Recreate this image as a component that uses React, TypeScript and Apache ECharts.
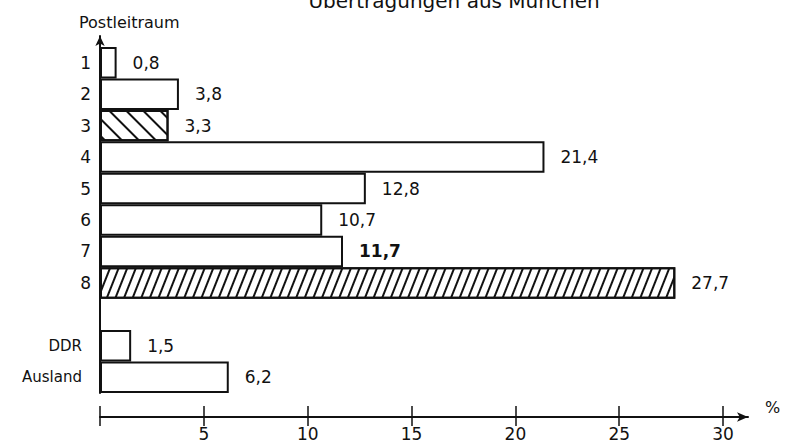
import { useEffect, useRef } from 'react';
import * as echarts from 'echarts';

const categories = ['1', '2', '3', '4', '5', '6', '7', '8', '', 'DDR', 'Ausland'];
const values: (number | null)[] = [0.8, 3.8, 3.3, 21.4, 12.8, 10.7, 11.7, 27.7, null, 1.5, 6.2];
const hatchBackslash = ['3'];
const hatchSlash = ['8'];
const boldLabels = ['7'];
const xTicks = [0, 5, 10, 15, 20, 25, 30];
const titleText = 'Übertragungen aus München';
const yAxisName = 'Postleitraum';
const unitName = '%';

const FONT = '"DejaVu Sans", "Liberation Sans", Arial, sans-serif';
const INK = '#111';

export default function App() {
  const ref = useRef<HTMLDivElement>(null);
  useEffect(() => {
    if (!ref.current) return;
    const chart = echarts.init(ref.current, null, { renderer: 'svg' });
    const xMax = 31.2;
    const data = values.map((v, i) => {
      const cat = categories[i];
      const item: any = { value: v };
      if (hatchBackslash.includes(cat)) {
        item.itemStyle = {
          decal: {
            symbol: 'rect', symbolSize: 1, dashArrayX: [1, 0], dashArrayY: [2, 10],
            rotation: Math.PI / 4, color: INK,
          },
        };
      } else if (hatchSlash.includes(cat)) {
        item.itemStyle = {
          decal: {
            symbol: 'rect', symbolSize: 1, dashArrayX: [1, 0], dashArrayY: [2, 6],
            rotation: -Math.PI * 0.38, color: INK,
          },
        };
      }
      if (boldLabels.includes(cat)) item.label = { fontWeight: 'bold' };
      return item;
    });
    chart.setOption({
      animation: false,
      backgroundColor: '#fff',
      textStyle: { fontFamily: FONT },
      graphic: [
        {
          type: 'text', x: 454, y: -9,
          style: { text: titleText, fill: INK, fontSize: 20, fontFamily: FONT, align: 'center', verticalAlign: 'top' },
        },
        {
          type: 'text', x: 79, y: 14,
          style: { text: yAxisName, fill: INK, fontSize: 16, fontFamily: FONT, align: 'left', verticalAlign: 'top' },
        },
      ],
      grid: [
        { left: 100, top: 47, width: 648, height: 346 },
        { left: 100, top: 36, width: 648, height: 357 },
      ],
      xAxis: [
        {
          gridIndex: 0, type: 'value', min: 0, max: xMax, position: 'bottom', offset: 24,
          axisLine: { show: true, onZero: false, symbol: ['none', 'arrow'], symbolSize: [7, 11], lineStyle: { color: INK, width: 2 } },
          axisTick: { show: true, length: 9, customValues: xTicks, lineStyle: { color: INK, width: 1.5 } },
          axisLabel: {
            customValues: xTicks, margin: 8, fontSize: 17, color: INK, fontFamily: FONT,
            formatter: (v: number) => (v === 0 ? '' : String(v)),
          },
          splitLine: { show: false },
          name: unitName, nameLocation: 'end', nameGap: 17,
          nameTextStyle: { fontSize: 16, color: INK, fontFamily: FONT, verticalAlign: 'bottom', padding: [0, 0, 2, 0] },
        },
        {
          gridIndex: 1, type: 'value', min: 0, max: xMax, position: 'bottom', offset: 24,
          axisLine: { show: false, onZero: false },
          axisTick: { show: true, inside: true, length: 11, customValues: xTicks, lineStyle: { color: INK, width: 1.5 } },
          axisLabel: { show: false },
          splitLine: { show: false },
        },
      ],
      yAxis: [
        {
          gridIndex: 0, type: 'category', inverse: true, data: categories,
          axisLine: { show: false }, axisTick: { show: false },
          axisLabel: {
            margin: 9, fontSize: 17, color: INK, fontFamily: FONT,
            formatter: (v: string) => (/^\d+$/.test(v) ? v : `{w|${v}}`),
            rich: { w: { fontSize: 15, color: INK, fontFamily: FONT, padding: [0, 9, 0, 0] } },
          },
          splitLine: { show: false },
        },
        {
          gridIndex: 1, type: 'value', min: 0, max: 1,
          axisLine: { show: true, onZero: false, symbol: ['none', 'arrow'], symbolSize: [7, 10], lineStyle: { color: INK, width: 2 } },
          axisTick: { show: false }, axisLabel: { show: false }, splitLine: { show: false },
        },
      ],
      series: [
        {
          type: 'bar', xAxisIndex: 0, yAxisIndex: 0, barWidth: '100%',
          data,
          itemStyle: { color: '#fff', borderColor: INK, borderWidth: 2 },
          label: {
            show: true, position: 'right', distance: 16, fontSize: 17, color: INK, fontFamily: FONT,
            formatter: (p: any) => (p.value == null ? '' : String(p.value).replace('.', ',')),
          },
        },
      ],
    });
    return () => chart.dispose();
  }, []);
  return <div ref={ref} style={{ position: 'fixed', left: 0, top: 0, width: 787, height: 445 }} />;
}
